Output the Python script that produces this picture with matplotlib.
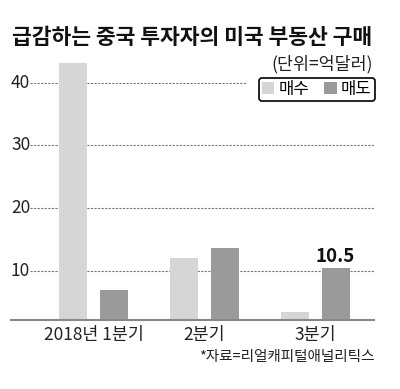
import matplotlib
matplotlib.use("Agg")
from matplotlib import pyplot as plt
import numpy as np

# data (억달러)
quarters = ["2018년 1분기", "2분기", "3분기"]
buy = [43.2, 12.0, 3.5]     # 매수
sell = [6.9, 13.6, 10.5]    # 매도
yticks = [10, 20, 30, 40]

KR = ["Noto Sans CJK KR", "DejaVu Sans"]
NUM = ["Liberation Sans Narrow", "Noto Sans CJK KR", "DejaVu Sans"]
plt.rcParams["font.family"] = KR

fig = plt.figure(figsize=(4, 3.89), dpi=100)
ax = fig.add_axes([0.0275, 0.1774, 0.9075, 0.694])

x = np.arange(len(quarters))
w = 0.253
off = 0.185
b1 = ax.bar(x - off, buy, w, color="#d6d6d6", label="매수", zorder=2)
b2 = ax.bar(x + off, sell, w, color="#9a9a9a", label="매도", zorder=2)

ax.set_xlim(-0.744, 2.532)
ax.set_ylim(2.2, 45.2)

# dotted grid lines + tick numbers drawn inside the plot area
for v in yticks:
    xend = 1.386 if v == 40 else 2.532
    ax.plot([-0.572, xend], [v, v], color="#777777", lw=0.8,
            linestyle=(0, (2, 1.2)), zorder=1)
    ax.text(-0.744, v, str(v), ha="left", va="center", fontsize=12.5,
            family=NUM, color="#222222")

for s in ["top", "right", "left"]:
    ax.spines[s].set_visible(False)
ax.spines["bottom"].set_color("#888888")
ax.spines["bottom"].set_linewidth(1.5)
ax.set_yticks([])
ax.set_xticks(x)
ax.set_xticklabels(quarters, family=NUM, fontsize=12.5, color="#222222")
ax.tick_params(axis="x", length=0, pad=4)

# value label on last 매도 bar
ax.text(x[2] + off, sell[2] + 0.9, f"{sell[2]}", ha="center", va="baseline",
        fontsize=13.5, weight="bold", family=NUM, color="#111111")

leg = ax.legend(handles=[b1, b2], loc="center right",
                bbox_to_anchor=(375 / 400, 1 - 89.5 / 389),
                bbox_transform=fig.transFigure, ncol=2, fontsize=12,
                handlelength=0.75, handleheight=0.75, handletextpad=0.25,
                columnspacing=0.9, borderpad=0.2, borderaxespad=0,
                fancybox=True, framealpha=1, edgecolor="black")
leg.get_frame().set_linewidth(1.2)

fig.text(12 / 400, 1 - 37 / 389, "급감하는 중국 투자자의 미국 부동산 구매",
         fontsize=15.5, weight="bold", va="center", ha="left", color="#111111")
fig.text(373 / 400, 1 - 64.5 / 389, "(단위=억달러)", fontsize=12.5,
         va="center", ha="right", color="#222222")
fig.text(374 / 400, 1 - 357.5 / 389, "*자료=리얼캐피털애널리틱스",
         fontsize=10.5, va="center", ha="right", color="#222222")

fig.savefig("out.png", dpi=100)
